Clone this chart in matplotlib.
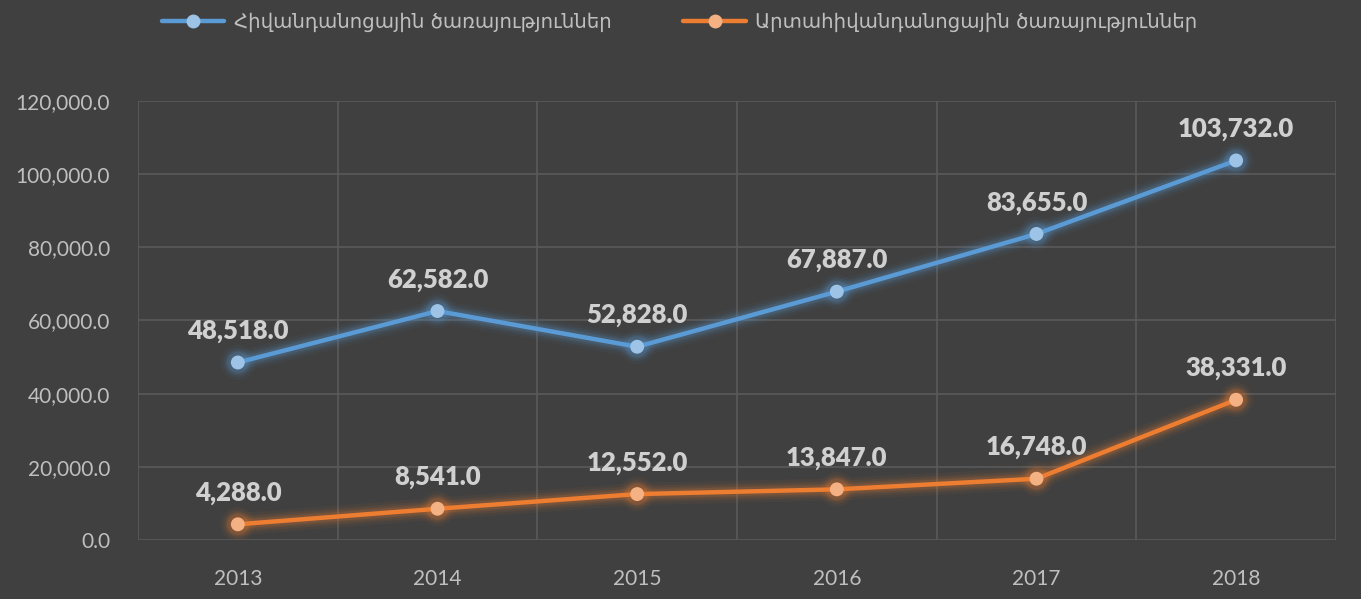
import matplotlib
matplotlib.use('Agg')
import matplotlib.pyplot as plt
import matplotlib.patheffects as pe
from matplotlib.ticker import FuncFormatter, MultipleLocator

years = ['2013', '2014', '2015', '2016', '2017', '2018']
hospital = [48518.0, 62582.0, 52828.0, 67887.0, 83655.0, 103732.0]
outpatient = [4288.0, 8541.0, 12552.0, 13847.0, 16748.0, 38331.0]
label_hospital = 'Հիվանդանոցային ծառայություններ'
label_outpatient = 'Արտահիվանդանոցային ծառայություններ'

bg = '#404040'
text_col = '#bfbfbf'
plt.rcParams['font.family'] = ['Lato', 'DejaVu Sans']

fig = plt.figure(figsize=(13.61, 5.99), dpi=100, facecolor=bg)
ax = fig.add_axes([0.1014, 0.0985, 0.8802, 0.7329], facecolor=bg)

def glow(color):
    effects = []
    for w, a in [(16, 0.05), (12, 0.07), (9, 0.1), (6.5, 0.15)]:
        effects.append(pe.Stroke(linewidth=w, foreground=color, alpha=a))
    effects.append(pe.Normal())
    return effects

x = list(range(len(years)))
series = [
    (hospital, label_hospital, '#5b9bd5', '#9dc3e6'),
    (outpatient, label_outpatient, '#ed7d31', '#f4b183'),
]
for vals, lab, col, mfc in series:
    ax.plot(x, vals, color=col, lw=3.2, marker='o', ms=9, mfc=mfc, mec=mfc,
            label=lab, path_effects=glow(col), zorder=3, solid_capstyle='round')
    for xi, v in zip(x, vals):
        ax.annotate(f'{v:,.1f}', (xi, v), xytext=(0, 14), textcoords='offset points',
                    ha='center', va='bottom', color='#d0d0d0', fontsize=18.5,
                    fontweight='heavy', zorder=4)

ax.set_xlim(-0.5, 5.5)
ax.set_ylim(0, 120000)
ax.set_xticks(x)
ax.set_xticklabels(years)
ax.yaxis.set_major_locator(MultipleLocator(20000))
ax.yaxis.set_major_formatter(FuncFormatter(lambda v, p: f'{v:,.1f}'))
ax.set_xticks([i + 0.5 for i in range(-1, 6)], minor=True)
ax.grid(True, which='major', axis='y', color='#5a5a5a', lw=1.2)
ax.grid(True, which='minor', axis='x', color='#5a5a5a', lw=1.2)
ax.tick_params(which='both', length=0, colors=text_col, labelsize=15)
ax.tick_params(axis='y', pad=20)
ax.tick_params(axis='x', pad=21)
for s in ax.spines.values():
    s.set_visible(False)

leg = fig.legend(loc='upper left', bbox_to_anchor=(0.1058, 1.008), ncol=2, frameon=False,
                 labelcolor=text_col, handlelength=3.15, columnspacing=3.65,
                 handletextpad=0.5, prop={'family': 'DejaVu Sans', 'size': 14.2})
for t in leg.get_texts():
    t.set_color(text_col)
for h in leg.legend_handles:
    h.set_path_effects([])

fig.savefig('out.png', dpi=100, facecolor=bg)
